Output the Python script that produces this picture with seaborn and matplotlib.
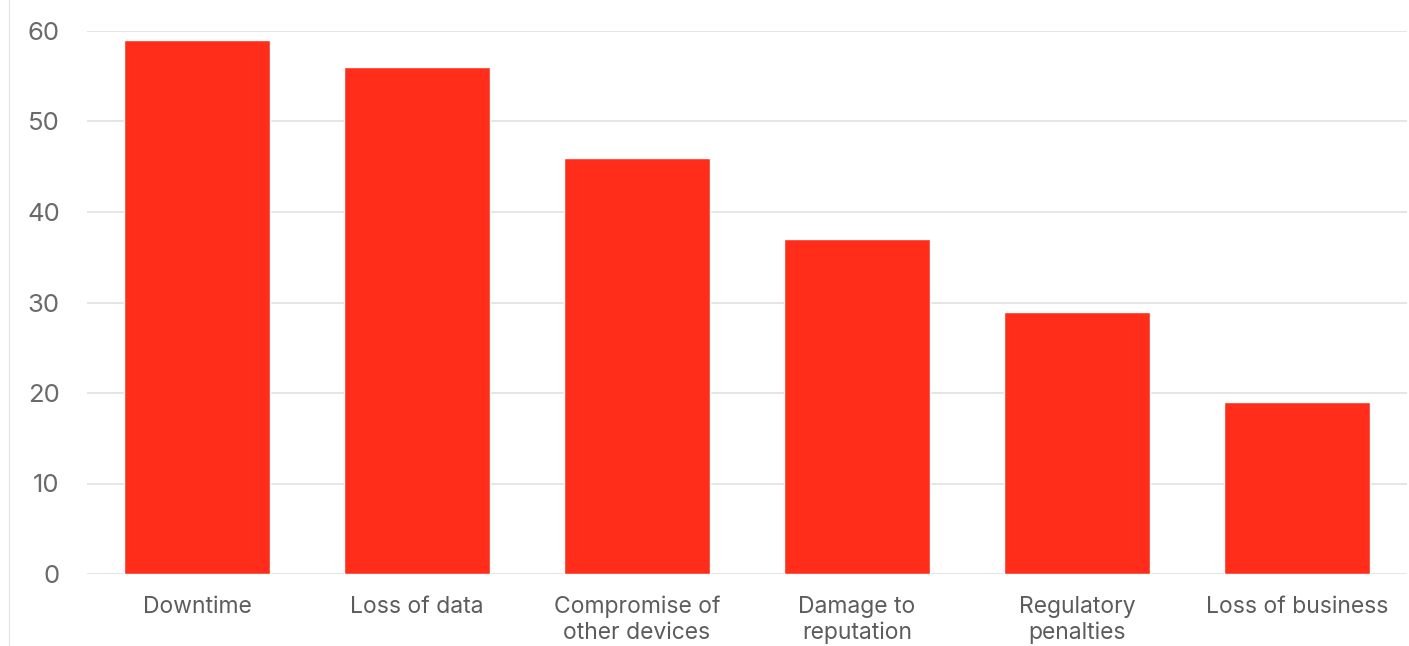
import seaborn as sns
import matplotlib.pyplot as plt
from matplotlib.lines import Line2D

categories = ["Downtime", "Loss of data", "Compromise of\nother devices",
              "Damage to\nreputation", "Regulatory\npenalties", "Loss of business"]
values = [59, 56, 46, 37, 29, 19]
yticks = [0, 10, 20, 30, 40, 50, 60]

sns.set_style("white")
plt.rcParams['font.family'] = ['Inter', 'DejaVu Sans']

fig = plt.figure(figsize=(14.09, 6.46), dpi=100)
ax = fig.add_axes([87 / 1409, 1 - 574 / 646, 1320 / 1409, (574 - 31) / 646])

sns.barplot(x=categories, y=values, color="#FF2D19", width=0.665,
            saturation=1, ax=ax, zorder=3)

ax.set_ylim(0, 60)
ax.set_xlim(-0.5, 5.5)
ax.set_yticks(yticks)
ax.set_yticklabels([str(t) for t in yticks])
ax.grid(axis="y", color="#e0e0e0", linewidth=1.2, zorder=0)
ax.set_axisbelow(True)
for s in ax.spines.values():
    s.set_visible(False)
ax.tick_params(axis="y", length=0, pad=19.5, labelsize=18.5, labelcolor="#6a6a6a")
ax.tick_params(axis="x", length=0, pad=15.5, labelsize=16.5, labelcolor="#5c5c5c")
for lbl in ax.get_xticklabels():
    lbl.set_linespacing(1.25)
ax.set_xlabel("")
ax.set_ylabel("")

# thin frame line at the left edge
fig.add_artist(Line2D([8.5 / 1409, 8.5 / 1409], [0, 1], transform=fig.transFigure,
                      color="#e6e6e6", linewidth=1))

fig.savefig("out.png", dpi=100)
